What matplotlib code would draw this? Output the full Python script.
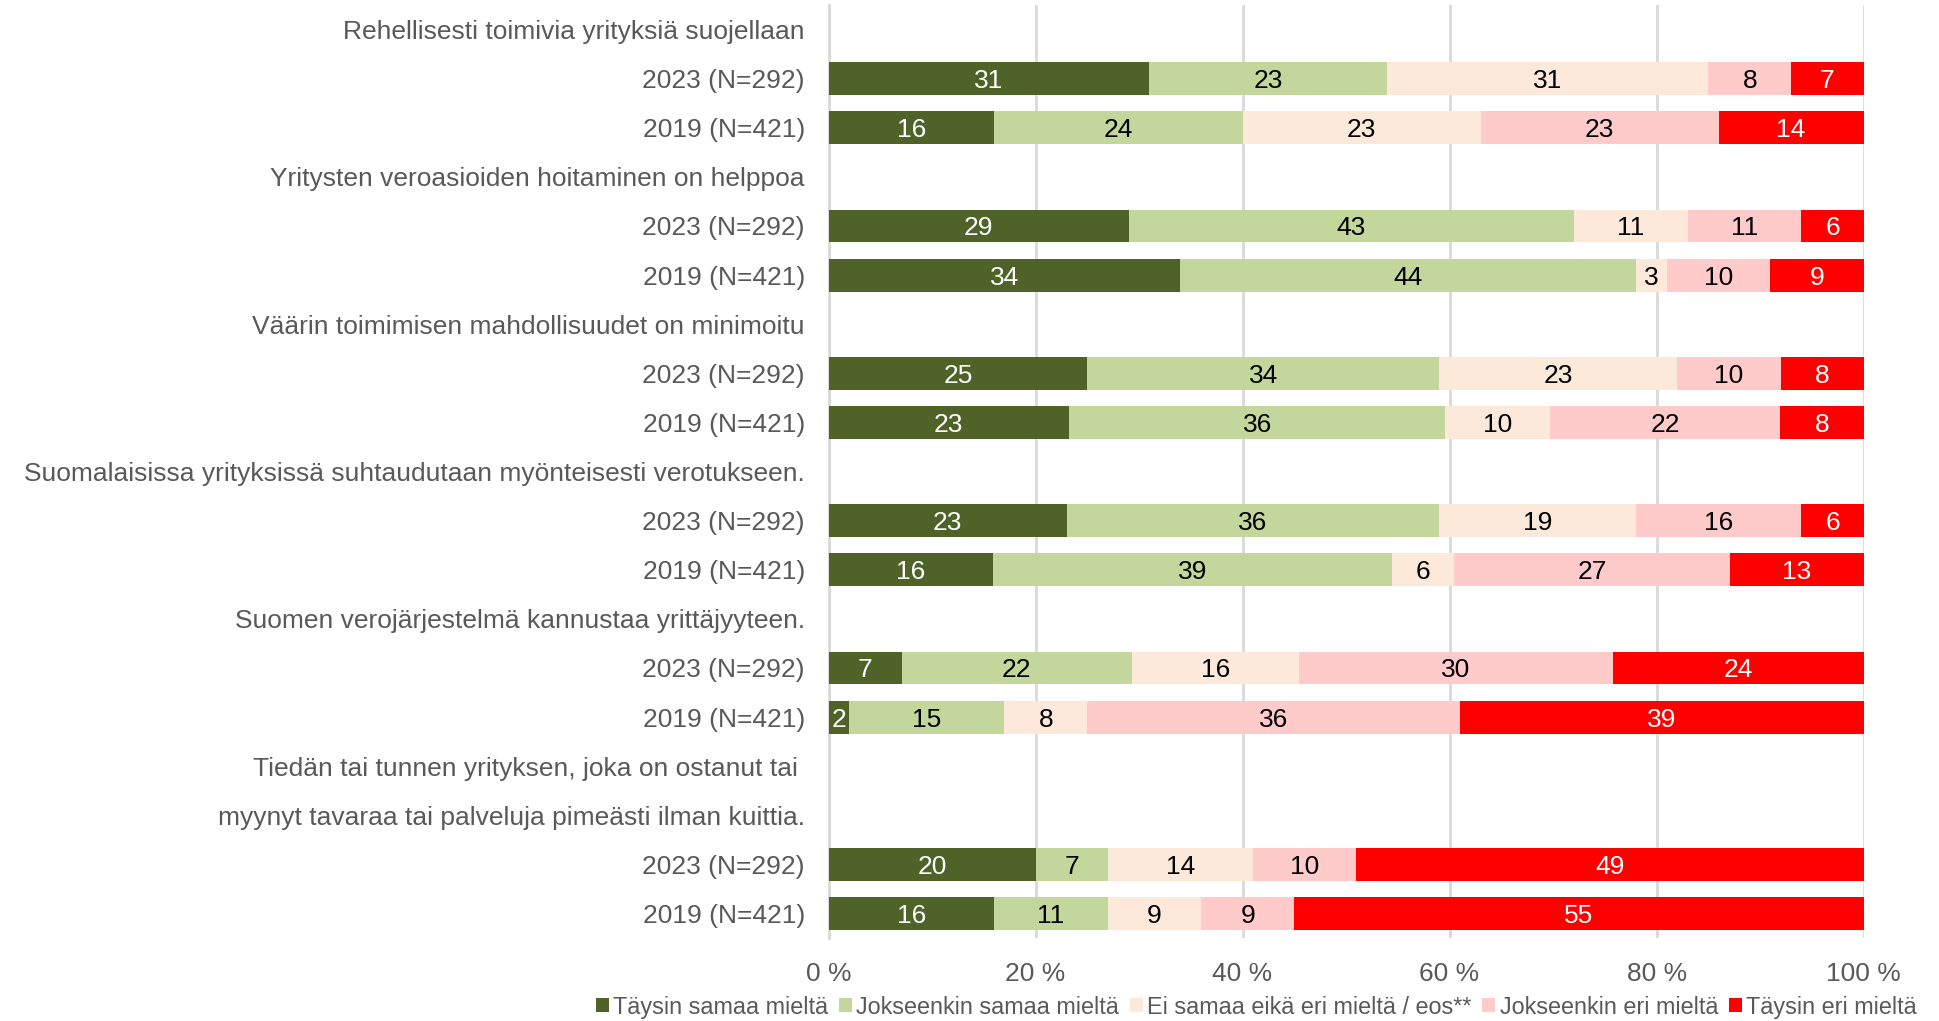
import matplotlib.pyplot as plt
import numpy as np

plt.rcParams['font.family'] = ['Liberation Sans', 'DejaVu Sans']

# row labels (header rows have no bars)
rows = [
    'Rehellisesti toimivia yrityksiä suojellaan',
    '2023 (N=292)', '2019 (N=421)',
    'Yritysten veroasioiden hoitaminen on helppoa',
    '2023 (N=292)', '2019 (N=421)',
    'Väärin toimimisen mahdollisuudet on minimoitu',
    '2023 (N=292)', '2019 (N=421)',
    'Suomalaisissa yrityksissä suhtaudutaan myönteisesti verotukseen.',
    '2023 (N=292)', '2019 (N=421)',
    'Suomen verojärjestelmä kannustaa yrittäjyyteen.',
    '2023 (N=292)', '2019 (N=421)',
    'Tiedän tai tunnen yrityksen, joka on ostanut tai ',
    'myynyt tavaraa tai palveluja pimeästi ilman kuittia.',
    '2023 (N=292)', '2019 (N=421)',
]

categories = ['Täysin samaa mieltä', 'Jokseenkin samaa mieltä',
              'Ei samaa eikä eri mieltä / eos**', 'Jokseenkin eri mieltä',
              'Täysin eri mieltä']

# one list per answer category, aligned with rows; None = header row
taysin_samaa = [None, 31, 16, None, 29, 34, None, 25, 23, None, 23, 16, None, 7, 2, None, None, 20, 16]
jokseenkin_samaa = [None, 23, 24, None, 43, 44, None, 34, 36, None, 36, 39, None, 22, 15, None, None, 7, 11]
ei_samaa_eika_eri = [None, 31, 23, None, 11, 3, None, 23, 10, None, 19, 6, None, 16, 8, None, None, 14, 9]
jokseenkin_eri = [None, 8, 23, None, 11, 10, None, 10, 22, None, 16, 27, None, 30, 36, None, None, 10, 9]
taysin_eri = [None, 7, 14, None, 6, 9, None, 8, 8, None, 6, 13, None, 24, 39, None, None, 49, 55]

series = [taysin_samaa, jokseenkin_samaa, ei_samaa_eika_eri, jokseenkin_eri, taysin_eri]
colors = ['#4F6228', '#C3D69B', '#FDE9D9', '#FFCACA', '#FF0000']
text_colors = ['white', 'black', 'black', 'black', 'white']

fig = plt.figure(figsize=(19.39, 10.21), dpi=100)
ax = fig.add_axes([0.4273, 0.0812, 0.5338, 0.9139])

data = np.array([[np.nan if v is None else v for v in s] for s in series], dtype=float)
totals = np.nansum(data, axis=0)
y = np.arange(len(rows))
left = np.zeros(len(rows))

for i, cat in enumerate(categories):
    vals = data[i]
    mask = ~np.isnan(vals)
    widths = np.where(mask, vals / np.where(totals == 0, 1, totals) * 100, 0)
    bars = ax.barh(y[mask], widths[mask], left=left[mask], height=0.67,
                   color=colors[i], label=cat, zorder=3)
    txts = ax.bar_label(bars, labels=[f'{int(v)}' for v in vals[mask]], label_type='center',
                        color=text_colors[i], fontsize=19)
    for t in txts:
        t.set_va('center_baseline')
    left = left + widths

ax.set_xlim(0, 100)
ax.set_ylim(len(rows) - 0.5, -0.5)
ax.set_yticks(y)
ax.set_yticklabels(rows, fontsize=19, color='#595959')
ax.set_xticks(np.arange(0, 101, 20))
ax.set_xticklabels([f'{v} %' for v in range(0, 101, 20)], fontsize=19, color='#595959')
ax.tick_params(axis='y', length=0, pad=17)
ax.tick_params(axis='x', length=0, pad=17)
ax.grid(axis='x', color='#D9D9D9', linewidth=2, zorder=0)
for side in ['top', 'right', 'bottom']:
    ax.spines[side].set_visible(False)
ax.spines['left'].set_color('#D9D9D9')
ax.spines['left'].set_linewidth(2)

fig.legend(loc='center', bbox_to_anchor=(0.648, 0.0135), ncol=5, frameon=False,
           fontsize=16.8, handlelength=0.55, handleheight=0.55, handletextpad=0.2,
           columnspacing=0.45, labelcolor='#595959', borderpad=0.1)

fig.savefig('out.png', dpi=100)
